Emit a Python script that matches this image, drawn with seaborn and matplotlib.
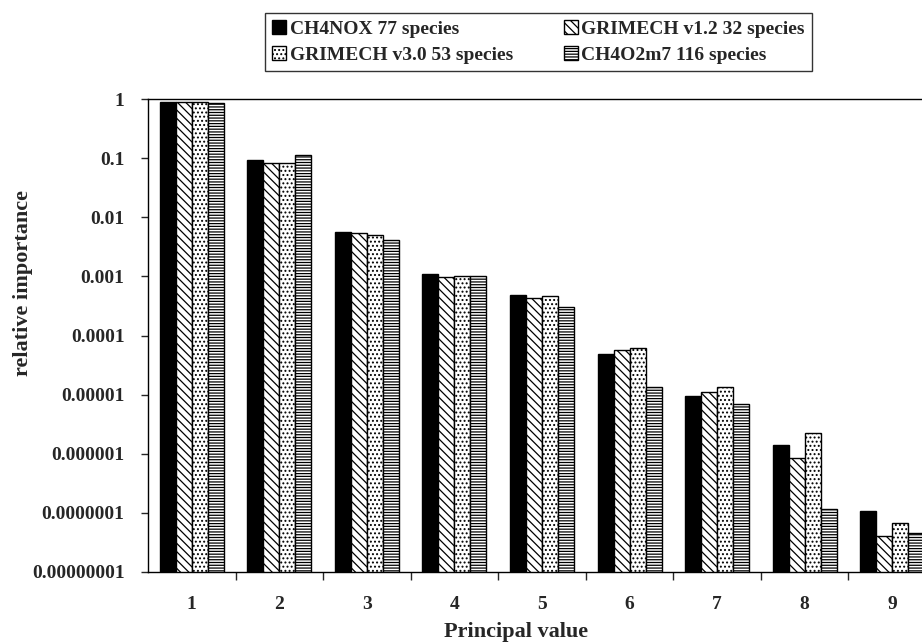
import numpy as np
import pandas as pd
import seaborn as sns
import matplotlib.pyplot as plt
from matplotlib.ticker import FixedLocator, FixedFormatter, NullLocator

# values (log scale)
principal = [1, 2, 3, 4, 5, 6, 7, 8, 9]
ch4nox = [0.90, 0.093, 0.0057, 0.00108, 0.00048, 4.8e-5, 9.5e-6, 1.4e-6, 1.08e-7]
grimech12 = [0.89, 0.084, 0.0055, 0.00099, 0.000425, 5.7e-5, 1.12e-5, 8.6e-7, 4.0e-8]
grimech30 = [0.89, 0.084, 0.0051, 0.00103, 0.00046, 6.1e-5, 1.33e-5, 2.28e-6, 6.8e-8]
ch4o2m7 = [0.865, 0.111, 0.0041, 0.00101, 0.00030, 1.36e-5, 6.9e-6, 1.16e-7, 4.5e-8]

series_names = ["CH4NOX 77 species", "GRIMECH v1.2 32 species",
                "GRIMECH v3.0 53 species", "CH4O2m7 116 species"]
hatches = ["", "\\\\\\\\", "....", "------"]
ytick_vals = [1e-8, 1e-7, 1e-6, 1e-5, 1e-4, 1e-3, 1e-2, 1e-1, 1]
ytick_labels = ["0.00000001", "0.0000001", "0.000001", "0.00001", "0.0001",
                "0.001", "0.01", "0.1", "1"]

df = pd.DataFrame({
    "pv": np.tile(principal, 4),
    "series": np.repeat(series_names, len(principal)),
    "value": ch4nox + grimech12 + grimech30 + ch4o2m7,
})

sns.set_style("white")
plt.rcParams["font.family"] = ["Liberation Serif", "DejaVu Serif"]
plt.rcParams["font.weight"] = "bold"
plt.rcParams["hatch.linewidth"] = 0.9

fig = plt.figure(figsize=(9.22, 6.44), dpi=100)
ax = fig.add_axes([148 / 922, 72 / 644, 788 / 922, 473 / 644])

sns.barplot(data=df, x="pv", y="value", hue="series", hue_order=series_names,
            palette=["black", "white", "white", "white"], width=0.73,
            edgecolor="black", linewidth=1.0, saturation=1, legend=False, ax=ax)

for cont, h in zip(ax.containers, hatches):
    for p in cont.patches:
        p.set_hatch(h)

ax.set_yscale("log")
ax.set_ylim(1e-8, 1)
ax.set_xlim(-0.5, 8.5)
ax.yaxis.set_major_locator(FixedLocator(ytick_vals))
ax.yaxis.set_major_formatter(FixedFormatter(ytick_labels))
ax.yaxis.set_minor_locator(NullLocator())
ax.tick_params(axis="y", which="major", direction="out", length=5, width=1,
               labelsize=14, pad=12, left=True)

# category boundaries as ticks, labels at the centres
ax.set_xticks(np.arange(0.5, 9, 1), minor=True)
ax.tick_params(axis="x", which="minor", direction="out", length=6, width=1, bottom=True)
ax.tick_params(axis="x", which="major", length=0, labelsize=14, pad=17)

for s in ["left", "bottom", "top"]:
    ax.spines[s].set_color("black")
    ax.spines[s].set_linewidth(1.0)
ax.spines["right"].set_visible(False)

ax.set_xlabel("Principal value", fontsize=16, fontweight="bold")
ax.set_ylabel("relative importance", fontsize=16, fontweight="bold")
ax.xaxis.set_label_coords(0.467, -(622 - 572) / 473)
ax.yaxis.set_label_coords(-(148 - 33) / 788, (572 - 283) / 473)

order = [0, 2, 1, 3]
leg = fig.legend([ax.containers[i] for i in order], [series_names[i] for i in order],
                 ncol=2, loc="upper left", bbox_to_anchor=(265 / 922, 1 - 13 / 644),
                 borderaxespad=0, frameon=True, fancybox=False,
                 edgecolor="black", handlelength=0.72, handleheight=0.72,
                 handletextpad=0.2, columnspacing=2.6, labelspacing=0.45,
                 borderpad=0.35, prop={"weight": "bold", "size": 14})
leg.get_frame().set_linewidth(1.0)

fig.savefig("out.png", dpi=100)
